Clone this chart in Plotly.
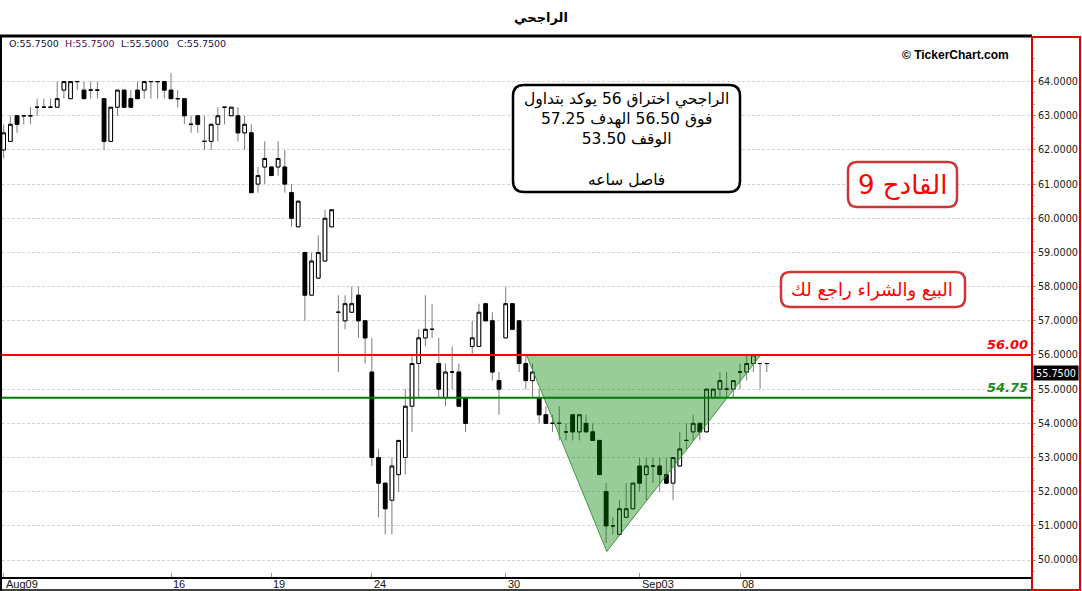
import plotly.graph_objects as go

# ---------------- data (hourly candles) ----------------
opens = [62.0, 62.25, 63.0, 63.0, 63.0, 63.25, 63.25, 63.25, 63.25, 63.75,
         63.5, 64.0, 63.75, 63.75, 63.75, 63.5, 62.25, 63.25, 63.75, 63.5,
         63.75, 63.75, 64.0, 64.0, 64.0, 63.75, 63.5, 63.5, 62.75, 63.0,
         62.25, 62.25, 62.75, 63.25, 63.0, 63.0, 62.5, 62.5, 61.0, 61.5,
         61.5, 61.5, 61.5, 60.75, 59.75, 59.0, 57.75, 58.25, 58.75, 59.75,
         57.25, 57.0, 57.25, 57.75, 57.0, 55.5, 53.0, 52.25, 51.75, 52.5,
         53.0, 54.5, 55.75, 56.5, 56.75, 55.75, 54.75, 55.5, 55.5, 54.75,
         56.25, 56.25, 57.5, 57.0, 55.25, 56.5, 57.5, 57.0, 55.75, 55.25,
         54.75, 54.25, 54.0, 54.0, 53.75, 54.25, 53.75, 54.0, 53.75, 53.5,
         52.0, 51.0, 50.75, 51.25, 51.5, 52.75, 52.5, 52.75, 52.75, 52.5,
         52.25, 52.75, 53.5, 53.75, 54.0, 53.75, 54.75, 55.0, 55.0, 55.0,
         55.5, 55.5, 55.75, 55.75, 55.75]
highs = [62.75, 63.0, 63.0, 63.0, 63.25, 63.5, 63.5, 63.5, 64.0, 64.0,
         64.0, 64.0, 64.0, 64.0, 64.0, 63.5, 63.25, 63.75, 63.75, 63.75,
         64.0, 64.0, 64.0, 64.0, 64.0, 64.25, 63.75, 63.5, 63.0, 63.0,
         63.0, 62.75, 63.25, 63.25, 63.25, 63.25, 63.0, 62.75, 61.5, 62.25,
         61.5, 62.25, 62.0, 61.0, 60.5, 59.0, 59.0, 59.5, 60.25, 60.25,
         57.75, 57.75, 58.0, 58.0, 57.0, 56.5, 53.25, 52.25, 53.0, 53.5,
         55.0, 56.0, 56.75, 57.75, 57.5, 56.5, 55.75, 56.25, 55.75, 54.75,
         57.0, 57.5, 57.5, 57.25, 55.5, 58.0, 57.5, 57.0, 56.0, 55.75,
         55.0, 54.5, 54.25, 54.5, 54.0, 54.25, 54.25, 54.25, 54.0, 53.5,
         52.25, 51.25, 51.75, 52.25, 52.25, 53.0, 53.0, 53.0, 53.0, 53.0,
         53.0, 53.75, 54.0, 54.25, 54.0, 55.0, 55.0, 55.5, 55.5, 55.25,
         55.75, 56.0, 56.0, 55.75, 55.75]
lows = [61.75, 62.25, 62.5, 62.75, 62.75, 63.0, 63.25, 63.25, 63.25, 63.5,
        63.5, 63.75, 63.5, 63.5, 63.5, 62.0, 62.25, 63.0, 63.25, 63.25,
        63.5, 63.5, 63.5, 63.5, 63.5, 63.5, 63.25, 62.75, 62.5, 62.5,
        62.0, 62.0, 62.25, 62.75, 63.0, 62.25, 62.0, 60.75, 60.75, 61.0,
        61.25, 61.25, 60.75, 59.75, 59.75, 57.0, 57.75, 58.25, 58.75, 59.75,
        55.5, 56.75, 57.25, 56.5, 55.75, 52.75, 51.25, 50.75, 50.75, 52.0,
        52.5, 53.75, 54.75, 56.25, 56.5, 54.75, 54.5, 55.0, 54.5, 53.75,
        56.0, 56.25, 57.0, 55.25, 54.25, 56.5, 56.75, 55.5, 55.0, 54.75,
        54.0, 54.0, 53.75, 53.5, 53.5, 53.5, 53.5, 53.75, 53.5, 52.5,
        50.5, 50.75, 50.75, 51.25, 51.5, 52.0, 51.75, 52.25, 52.0, 52.25,
        51.75, 52.75, 53.25, 53.5, 53.5, 53.75, 54.75, 54.75, 54.75, 54.75,
        55.0, 55.25, 55.5, 55.0, 55.5]
closes = [62.5, 62.75, 62.75, 63.0, 63.0, 63.25, 63.25, 63.25, 63.5, 64.0,
          64.0, 64.0, 63.5, 63.75, 63.75, 62.25, 63.25, 63.75, 63.25, 63.25,
          63.5, 64.0, 64.0, 64.0, 63.75, 63.5, 63.5, 63.0, 62.75, 62.75,
          62.25, 62.75, 63.0, 63.25, 63.25, 62.5, 62.75, 60.75, 61.25, 61.75,
          61.25, 61.75, 61.0, 60.0, 60.5, 57.75, 58.75, 59.0, 60.0, 60.25,
          57.25, 57.5, 57.5, 57.0, 56.5, 53.0, 52.25, 51.5, 52.75, 53.5,
          54.5, 55.75, 56.5, 56.75, 56.75, 55.0, 55.5, 55.5, 54.5, 54.0,
          56.5, 57.25, 57.0, 55.5, 55.0, 57.5, 56.75, 55.75, 55.25, 55.5,
          54.25, 54.0, 54.0, 54.0, 53.75, 53.75, 54.25, 53.75, 53.5, 52.5,
          51.0, 51.0, 51.5, 51.5, 52.25, 52.25, 52.75, 52.75, 52.5, 52.25,
          53.0, 53.25, 53.5, 54.0, 53.75, 55.0, 55.0, 55.25, 55.0, 55.25,
          55.5, 55.75, 56.0, 55.75, 55.75]

date_tick_index = [0, 25, 40, 55, 75, 95, 110]
date_tick_labels = ["Aug09", "16", "19", "24", "30", "Sep03", "08"]
price_ticks = [50, 51, 52, 53, 54, 55, 56, 57, 58, 59, 60, 61, 62, 63, 64]

# drawn pattern (triangle) in candle-index / price units
pattern_x = [78.1, 90.1, 113.1, 78.1]
pattern_y = [56.0, 50.25, 56.0, 56.0]

# horizontal levels
level_values = [56.00, 54.75]
level_colors = ["#ff0000", "#007a00"]
level_text_colors = ["#ff0000", "#1a8a1a"]

last_price = 55.75
header_parts = ["O:55.7500", "H:55.7500", "L:55.5000", "C:55.7500"]

title_text = "الراجحي"
note_lines = ["الراجحي اختراق 56 يوكد بتداول", "فوق 56.50 الهدف 57.25", "الوقف 53.50", "", "فاصل ساعه"]
badge_text = "القادح 9"
disclaimer_text = "البيع والشراء راجع لك"
logo_text = "© TickerChart.com"

# ---------------- layout helpers ----------------
W, H = 1082, 591
LM, RM, TM, BM = 2, 51, 36, 14
PW = W - LM - RM
PH = H - TM - BM


def px(x):
    return (x - LM) / PW


def py(y):
    return (H - BM - y) / PH


def rtl(s):
    return "\u202b" + s + "\u202c" if s else "\u00a0"


def rounded_path(x0, y0, x1, y1, r):
    # pixel coords -> paper path with rounded corners
    X0, X1 = px(x0), px(x1)
    Y0, Y1 = py(y0), py(y1)  # Y0 top (larger), Y1 bottom
    rx, ry = r / PW, r / PH
    return (f"M {X0+rx},{Y0} L {X1-rx},{Y0} Q {X1},{Y0} {X1},{Y0-ry} "
            f"L {X1},{Y1+ry} Q {X1},{Y1} {X1-rx},{Y1} "
            f"L {X0+rx},{Y1} Q {X0},{Y1} {X0},{Y1+ry} "
            f"L {X0},{Y0-ry} Q {X0},{Y0} {X0+rx},{Y0} Z")


idx = list(range(len(opens)))
body_hi = [max(o, c) for o, c in zip(opens, closes)]
body_lo = [min(o, c) for o, c in zip(opens, closes)]

fig = go.Figure()
# wicks (grey)
fig.add_trace(go.Candlestick(
    x=idx, open=opens, high=highs, low=lows, close=closes,
    increasing=dict(line=dict(color="#7a7a7a", width=1), fillcolor="#7a7a7a"),
    decreasing=dict(line=dict(color="#7a7a7a", width=1), fillcolor="#7a7a7a"),
    whiskerwidth=0, hoverinfo="skip", showlegend=False))
# bodies (black outline, hollow up / black down)
fig.add_trace(go.Candlestick(
    x=idx, open=opens, high=body_hi, low=body_lo, close=closes,
    increasing=dict(line=dict(color="#000000", width=1), fillcolor="#ffffff"),
    decreasing=dict(line=dict(color="#000000", width=1), fillcolor="#000000"),
    whiskerwidth=0, showlegend=False))
# triangle drawing
fig.add_trace(go.Scatter(
    x=pattern_x, y=pattern_y, mode="lines", fill="toself",
    fillcolor="rgba(0,128,0,0.40)", line=dict(color="#3c9a3c", width=1),
    hoverinfo="skip", showlegend=False))

shapes = []
for v, col in zip(level_values, level_colors):
    shapes.append(dict(type="line", xref="paper", yref="y", x0=0, x1=px(1032), y0=v, y1=v,
                       line=dict(color=col, width=2), layer="above"))
# frame lines
shapes.append(dict(type="line", xref="paper", yref="paper", x0=px(0), x1=px(1032), y0=py(36), y1=py(36),
                   line=dict(color="black", width=3)))
shapes.append(dict(type="line", xref="paper", yref="paper", x0=px(1), x1=px(1), y0=py(35), y1=py(591),
                   line=dict(color="black", width=2)))
shapes.append(dict(type="line", xref="paper", yref="paper", x0=px(0), x1=px(1032), y0=py(590), y1=py(590),
                   line=dict(color="black", width=1.5)))
# right price panel border
shapes.append(dict(type="rect", xref="paper", yref="paper", x0=px(1032), x1=px(1080), y0=py(37), y1=py(590),
                   line=dict(color="#e00000", width=2)))
# rounded boxes
shapes.append(dict(type="path", xref="paper", yref="paper", path=rounded_path(513, 85, 740, 192, 11),
                   line=dict(color="black", width=2.5), fillcolor="white", layer="above"))
shapes.append(dict(type="path", xref="paper", yref="paper", path=rounded_path(848, 162, 957, 207, 9),
                   line=dict(color="#d03434", width=2.5), fillcolor="white", layer="above"))
shapes.append(dict(type="path", xref="paper", yref="paper", path=rounded_path(781, 272, 965, 307, 9),
                   line=dict(color="#d03434", width=2.5), fillcolor="white", layer="above"))

ann = []
# date labels to the right of their ticks, below the axis line
for i, t in zip(date_tick_index, date_tick_labels):
    ann.append(dict(text=t, xref="x", yref="paper", x=i, y=py(584), xanchor="left", yanchor="middle",
                    xshift=0, showarrow=False,
                    font=dict(family="Liberation Sans", size=11, color="#111111")))
hdr_x = [7, 63, 119, 175]
hdr_col = ["#14143c", "#5c0a5c", "#14143c", "#14144a"]
for t, x0, c in zip(header_parts, hdr_x, hdr_col):
    ann.append(dict(text=t, xref="paper", yref="paper", x=px(x0), y=py(43), xanchor="left", yanchor="middle",
                    showarrow=False, font=dict(family="DejaVu Sans", size=9.5, color=c)))
ann.append(dict(text="<b>" + logo_text + "</b>", xref="paper", yref="paper", x=px(955), y=py(55),
                xanchor="center", yanchor="middle", showarrow=False,
                font=dict(family="Liberation Sans", size=12, color="black")))
ann.append(dict(text="<br>".join(rtl(s) for s in note_lines), xref="paper", yref="paper",
                x=px(626), y=py(139), xanchor="center", yanchor="middle", showarrow=False, align="center",
                font=dict(family="DejaVu Sans", size=15.5, color="black")))
ann.append(dict(text=rtl(badge_text), xref="paper", yref="paper", x=px(902), y=py(185),
                xanchor="center", yanchor="middle", showarrow=False,
                font=dict(family="DejaVu Sans", size=26, color="#ff0000")))
ann.append(dict(text=rtl(disclaimer_text), xref="paper", yref="paper", x=px(872), y=py(290),
                xanchor="center", yanchor="middle", showarrow=False,
                font=dict(family="DejaVu Sans", size=18, color="#ff0000")))
for v, col in zip(level_values, level_text_colors):
    ann.append(dict(text=f"<b><i>{v:.2f}</i></b>", xref="paper", yref="y", x=px(1030), y=v,
                    xanchor="right", yanchor="bottom", yshift=1, showarrow=False,
                    font=dict(family="DejaVu Sans", size=13, color=col)))
ann.append(dict(text=f"{last_price:.4f}", xref="paper", yref="y", x=px(1033), y=last_price,
                xanchor="left", yanchor="top", yshift=-1, showarrow=False, bgcolor="black",
                width=42, height=12, borderpad=1,
                font=dict(family="DejaVu Sans", size=9.7, color="white")))

fig.update_layout(
    width=W, height=H,
    margin=dict(l=LM, r=RM, t=TM, b=BM, pad=0, autoexpand=False),
    paper_bgcolor="white", plot_bgcolor="white",
    title=dict(text="<b>" + title_text + "</b>", x=0.5, xref="container", xanchor="center",
               y=1 - 17 / H, yanchor="middle", font=dict(family="DejaVu Sans", size=13, color="black")),
    showlegend=False, boxgap=0.22, hovermode=False,
    shapes=shapes, annotations=ann,
    xaxis=dict(range=[-0.246, 153.47], tickmode="array", tickvals=date_tick_index,
               ticks="inside", ticklen=4, tickcolor="#9a9a9a", showticklabels=False,
               showline=True, linecolor="black", linewidth=2, showgrid=False, zeroline=False,
               rangeslider=dict(visible=False), automargin=False),
    yaxis=dict(side="right", range=[49.503, 65.334], tickmode="array", tickvals=price_ticks,
               ticktext=[f"{v:.4f}" for v in price_ticks], automargin=False,
               showgrid=True, gridcolor="#d2d2d2", griddash="3px,2px", gridwidth=1,
               ticks="outside", ticklen=4, tickcolor="#9a9a9a", showline=False, zeroline=False,
               minor=dict(tickvals=[v + k / 3 for v in price_ticks for k in (1, 2)] + [49.67],
                          ticks="outside", ticklen=3, tickcolor="#b0b0b0", showgrid=False),
               tickfont=dict(family="DejaVu Sans", size=9.7, color="#202020")),
)

fig.write_html("out.html", config={"displayModeBar": False},
               post_script="document.body.style.margin='0';document.body.style.overflow='hidden';")
